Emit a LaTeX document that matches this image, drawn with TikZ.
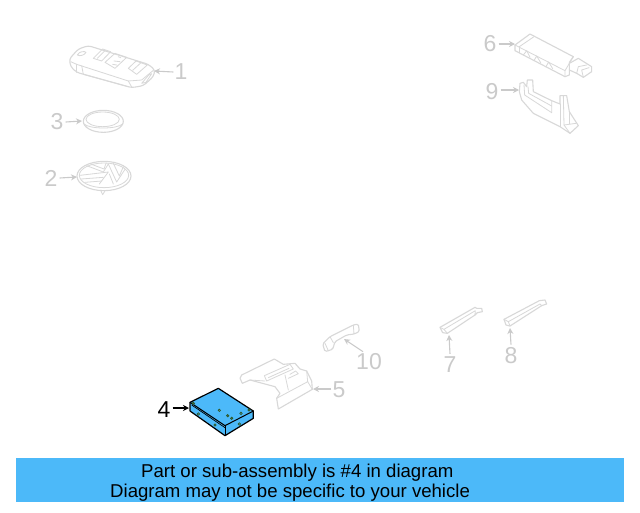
\documentclass[tikz,border=0pt]{standalone}
\usepackage{fontspec}
\setmainfont{Liberation Sans}
\usetikzlibrary{arrows.meta}
\definecolor{faint}{HTML}{D8D8D8}
\definecolor{lab}{HTML}{CACACA}
\definecolor{barblue}{HTML}{4CB9F9}
\definecolor{holeline}{HTML}{2E5A2A}
\tikzset{
  part/.style={draw=faint,line width=1.1pt,line join=round,line cap=round},
  thin part/.style={draw=faint,line width=.8pt,line join=round,line cap=round},
  lbl/.style={text=lab,font=\fontsize{23}{23}\selectfont,inner sep=0pt},
  arr/.style={draw=lab,line width=1.1pt,-{Stealth[length=6pt,width=6pt]}},
  zoomed/.style={x=.33333pt,y=-.33333pt},
  modpart/.style={draw=black,line width=1.2pt,line join=round,fill=barblue},
  hole/.style={draw=holeline,line width=.7pt,fill=barblue},
  darkhole/.style={draw=holeline,line width=.7pt,fill=holeline!70!barblue},
  bartext/.style={font=\fontsize{18.6}{21}\selectfont,text=black,inner sep=0pt,anchor=base west}
}
\begin{document}
\begin{tikzpicture}[x=1pt,y=-1pt]
\useasboundingbox (0,0) rectangle (640,512);
\fill[white] (0,0) rectangle (640,512);
% --- key
\begin{scope}[shift={(60,35)},zoomed]
 \draw[part,rounded corners=3pt] (28,72) -- (55,42) -- (85,32) -- (265,88) -- (285,105) -- (280,125) -- (250,152) -- (215,158) -- (50,112) -- (32,95) -- cycle;
 \draw[thin part] (32,80) -- (50,88) -- (205,138) -- (215,156);
 \draw[thin part] (205,138) -- (245,135) -- (280,106);
 \draw[thin part] (50,88) -- (50,112);
 \draw[thin part] (65,92) -- (70,118) -- (205,155);
 \draw[thin part] (52,60) .. controls (58,48) and (75,48) .. (78,52) .. controls (74,60) and (60,65) .. (52,60) -- cycle;
 \draw[thin part] (100,70) -- (128,42) -- (152,50) -- (125,78) -- cycle;
 \draw[thin part] (112,70) -- (136,46);
 \draw[thin part] (135,82) -- (165,55) -- (200,67) -- (165,100) -- cycle;
 \draw[thin part] (162,78) -- (180,80);
 \draw[thin part] (158,88) -- (170,90);
 \draw[thin part] (175,65) -- (182,68);
 \draw[thin part] (205,100) -- (228,78) -- (262,90) -- (230,118) -- cycle;
 \draw[thin part] (218,106) -- (242,84);
 \draw[thin part] (245,145) -- (268,118) -- (275,116) -- (258,142) -- cycle;
\end{scope}
% --- battery, emblem
\begin{scope}[shift={(70,100)},zoomed]
 \draw[part] (100,64) ellipse [x radius=60,y radius=33];
 \draw[thin part] (98,58) ellipse [x radius=50,y radius=22];
 \draw[thin part] (42,72) .. controls (60,88) and (140,88) .. (158,72);
 \draw[part] (102,228) ellipse [x radius=81,y radius=44];
 \draw[thin part] (102,226) ellipse [x radius=74,y radius=37];
 \draw[thin part] (92,271) -- (98,284) -- (106,271);
 \draw[thin part] (50,197) -- (100,216) -- (115,192);
 \draw[thin part] (62,192) -- (102,207) -- (108,190);
 \draw[thin part] (115,192) -- (140,246) -- (165,208);
 \draw[thin part] (130,190) -- (148,228) -- (160,200);
 \draw[thin part] (30,226) -- (115,216) -- (88,252);
 \draw[thin part] (34,237) -- (100,232);
 \draw[thin part] (45,247) -- (95,243);
 \draw[thin part] (118,222) -- (130,252);
\end{scope}
% --- module 6, bracket 9
\begin{scope}[shift={(510,30)},zoomed]
 \draw[part] (15,45) -- (60,12) -- (190,80) -- (178,97) -- (178,135) -- (165,140) -- (15,62) -- cycle;
 \draw[thin part] (15,45) -- (165,122) -- (165,140);
 \draw[thin part] (165,122) -- (190,80);
 \draw[thin part] (28,50) -- (72,20);
 \draw[thin part] (28,50) -- (28,68);
 \draw[thin part] (40,75) -- (50,62) -- (60,82);
 \draw[thin part] (72,92) -- (80,78) -- (92,98);
 \draw[thin part] (108,110) -- (116,96) -- (128,116);
 \draw[part] (178,100) -- (205,85) -- (245,110) -- (245,125) -- (220,142) -- (200,130) -- (178,120);
 \draw[thin part] (200,130) -- (205,110) -- (230,105);
 \draw[thin part] (220,142) -- (215,120) -- (237,113);
 \draw[part] (30,160) -- (40,157) -- (50,170) -- (52,150) -- (68,150) -- (70,185) -- (125,212) -- (150,222) -- (150,197) -- (170,197) -- (178,245) -- (205,287) -- (180,310) -- (150,290) -- (70,250) -- (35,210) -- (28,185) -- cycle;
 \draw[thin part] (42,165) -- (44,195) -- (125,248) -- (125,212);
 \draw[thin part] (54,170) -- (56,190) -- (125,228);
 \draw[thin part] (150,222) -- (150,290);
 \draw[thin part] (160,197) -- (162,285) -- (180,310);
 \draw[thin part] (162,285) -- (198,280);
 \draw[thin part] (178,245) -- (178,282);
\end{scope}
% --- part 5
\begin{scope}[shift={(235,355)},zoomed]
 \draw[part] (15,70) -- (22,85) -- (45,75) -- (120,95) -- (135,115) -- (125,130) -- (130,162) -- (232,103) -- (230,78) -- (215,48) -- (195,42) -- (180,25) -- (145,28) -- (118,12) -- (20,60) -- cycle;
 \draw[thin part] (125,130) -- (218,80) -- (215,48);
 \draw[thin part] (218,80) -- (232,103);
 \draw[thin part] (88,62) -- (165,28) -- (175,42) -- (95,78) -- cycle;
 \draw[thin part] (100,68) -- (162,40);
 \draw[thin part] (160,70) -- (190,56) -- (182,48) -- (165,58);
 \draw[thin part] (45,75) -- (90,78);
 \draw[thin part] (150,60) -- (160,105);
\end{scope}
% --- handle 10
\begin{scope}[shift={(150,320)},zoomed]
 \draw[part,rounded corners=1.5pt] (518,72) -- (540,50) -- (610,15) -- (625,12) -- (628,35) -- (612,42) -- (590,45) -- (555,65) -- (548,88) -- (525,95) -- cycle;
 \draw[thin part] (540,50) -- (550,68);
 \draw[thin part] (525,70) -- (535,92);
 \draw[thin part] (610,15) -- (612,42);
\end{scope}
% --- module 4 (highlighted)
\begin{scope}[shift={(185,385)},zoomed]
 \draw[modpart] (15,52) -- (100,10) -- (205,78) -- (205,100) -- (120,152) -- (15,78) -- cycle;
 \draw[black,line width=1pt] (15,52) -- (120,122) -- (205,78);
 \draw[black,line width=1pt] (120,122) -- (120,152);
 \draw[black,line width=.7pt] (20,60) -- (120,128);
 \foreach \hx/\hy in {103/76,168/85,40/87,90/120,163/117}
   \draw[hole] (\hx,\hy) circle (3.6);
 \foreach \hx/\hy in {25/55,128/92,140/100,192/75}
   \draw[darkhole] (\hx,\hy) circle (3.6);
\end{scope}
% --- small brackets 7, 8
\begin{scope}[shift={(430,290)},zoomed]
 \draw[part] (30,112) -- (135,52) -- (140,55) -- (155,55) -- (157,65) -- (142,68) -- (135,75) -- (52,130) -- (38,128) -- cycle;
 \draw[thin part] (30,112) -- (42,118) -- (136,62) -- (135,75);
 \draw[thin part] (42,118) -- (52,130);
 \draw[part] (222,88) -- (328,32) -- (345,30) -- (350,42) -- (335,47) -- (240,108) -- (228,105) -- cycle;
 \draw[thin part] (222,88) -- (235,95) -- (330,42) -- (335,47);
 \draw[thin part] (235,95) -- (240,108);
\end{scope}
% --- tips
\coordinate (t1) at (154,71);
\coordinate (t3) at (82,121);
\coordinate (t2) at (77,177);
\coordinate (t6) at (515,44);
\coordinate (t9) at (519,90);
\coordinate (t4) at (189,408);
\coordinate (t5) at (313,389);
\coordinate (t10) at (344,339);
\coordinate (t7) at (449,335);
\coordinate (t8) at (510,328);
% --- labels
\node[lbl] (l1) at (181,72) {1};
\node[lbl] (l3) at (57,122) {3};
\node[lbl] (l2) at (51,178) {2};
\node[lbl] (l6) at (490,44) {6};
\node[lbl] (l9) at (492,92) {9};
\node[lbl,text=black] (l4) at (164,410) {4};
\node[lbl] (l5) at (339,390) {5};
\node[lbl] (l10) at (369,362) {10};
\node[lbl] (l7) at (450,365) {7};
\node[lbl] (l8) at (511,356) {8};
\draw[arr] (l1.west) ++(-1,0) -- (t1);
\draw[arr] (l3.east) ++(2,0) -- (t3);
\draw[arr] (l2.east) ++(2,0) -- (t2);
\draw[arr] (l6.east) ++(2,0) -- (t6);
\draw[arr] (l9.east) ++(2,-2) -- (t9);
\draw[arr,draw=black] (l4.east) ++(2,-2) -- (t4);
\draw[arr] (l5.west) ++(-1,-1) -- (t5);
\draw[arr] (l10.north) ++(-6,-2) -- (t10);
\draw[arr] (l7.north) ++(0,-3) -- (t7);
\draw[arr] (l8.north) ++(0,-3) -- (t8);
% --- banner
\fill[barblue] (16,458) rectangle (624,502);
\node[bartext] (b1) at (141,477) {Part or sub-assembly is \#4 in diagram};
\node[bartext] (b2) at (110,497) {Diagram may not be specific to your vehicle};
\end{tikzpicture}
\end{document}
